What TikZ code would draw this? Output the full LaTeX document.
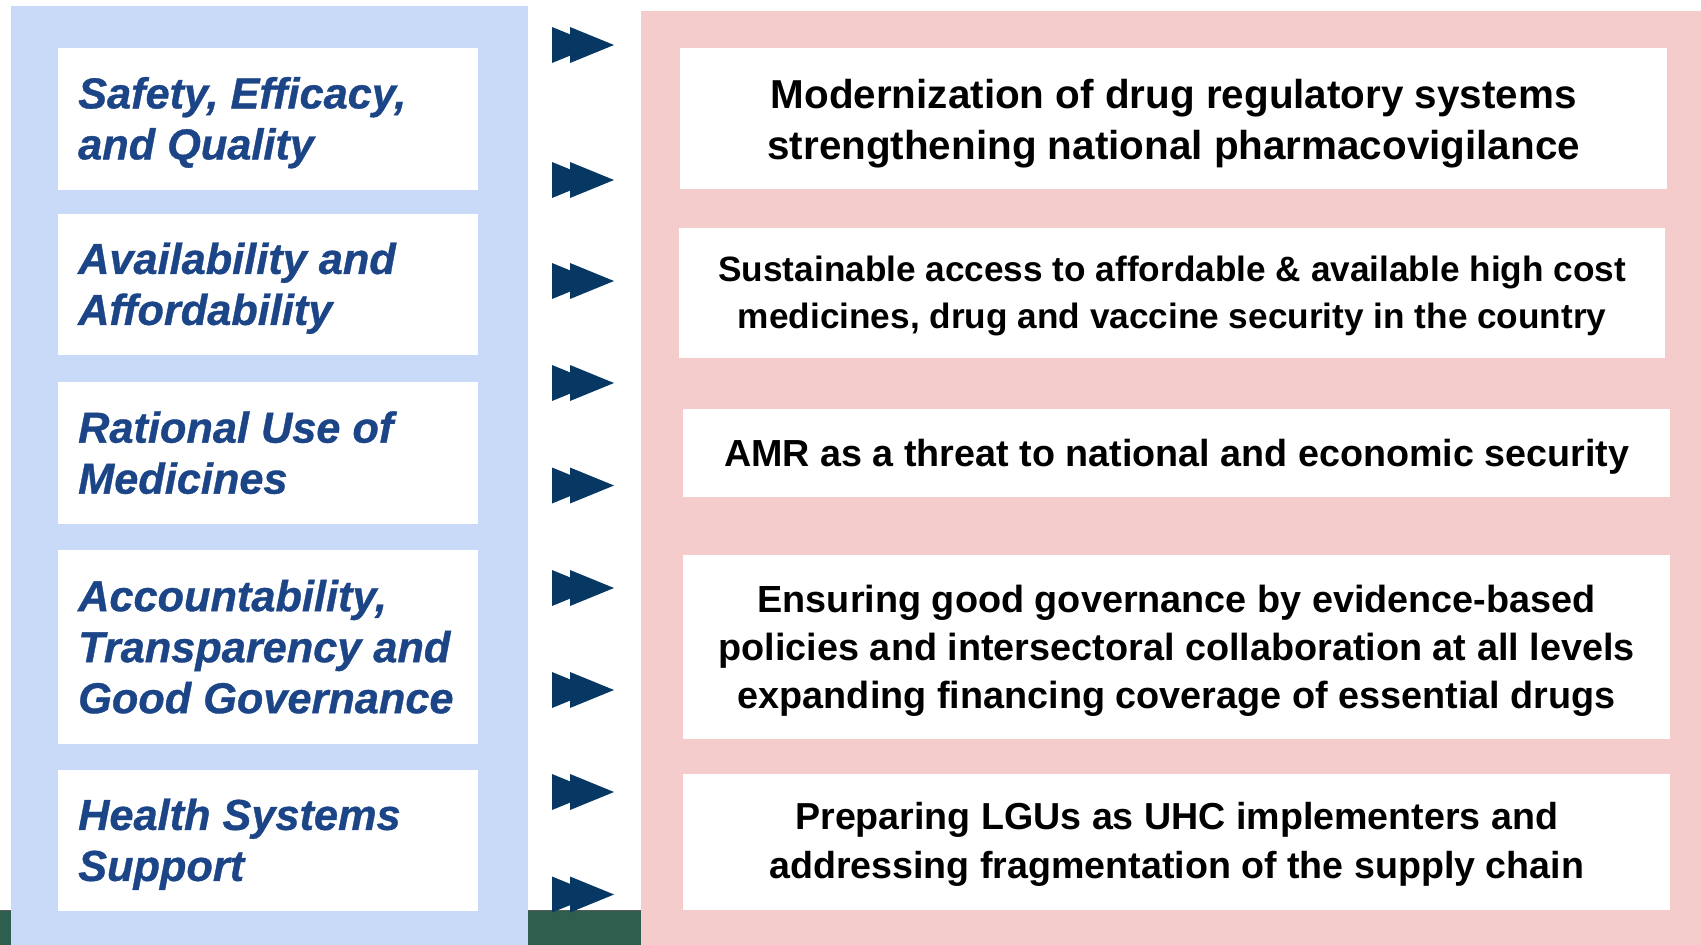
\documentclass[tikz,border=0pt]{standalone}
\usepackage{fontspec}
\setmainfont{Liberation Sans}
\newfontface\leftface{Liberation Sans Bold Italic}[FakeBold=0.8]
\definecolor{lblue}{HTML}{C9DAF8}
\definecolor{lpink}{HTML}{F4CCCC}
\definecolor{navy}{HTML}{073763}
\definecolor{ltext}{HTML}{1C4587}
\definecolor{dgreen}{HTML}{2E5E4E}
\begin{document}
\begin{tikzpicture}[x=1pt,y=-1pt,
  box/.style={fill=white, anchor=north west, inner sep=0pt, minimum width=#1},
  ltxt/.style={anchor=west, inner sep=0pt, align=left, text=ltext,
    font=\leftface\fontsize{43.3}{51}\selectfont},
  rtxt/.style={inner sep=0pt, align=center, text=black},
  arrowtri/.style={fill=navy}]
\useasboundingbox (0,0) rectangle (1701,945);
\fill[white] (0,0) rectangle (1701,945);
% bottom strip
\fill[dgreen] (0,910) rectangle (1701,945);
\draw[gray!70!black, line width=1.5pt] (0,910.5) -- (1701,910.5);
% panels
\fill[lblue] (11,6) rectangle (528,945);
\fill[lpink] (641,11) rectangle (1701,945);
% left boxes
\node[box=420pt, minimum height=142pt] (l1) at (58,48) {};
\node[box=420pt, minimum height=141pt] (l2) at (58,214) {};
\node[box=420pt, minimum height=142pt] (l3) at (58,382) {};
\node[box=420pt, minimum height=194pt] (l4) at (58,550) {};
\node[box=420pt, minimum height=141pt] (l5) at (58,770) {};
\node[ltxt] (lt1) at ([xshift=20pt,yshift=-3.5pt]l1.west) {Safety, Efficacy,\\and Quality};
\node[ltxt] (lt2) at ([xshift=20pt,yshift=-3.5pt]l2.west) {Availability and\\Affordability};
\node[ltxt] (lt3) at ([xshift=20pt,yshift=0.5pt]l3.west) {Rational Use of\\Medicines};
\node[ltxt] (lt4) at ([xshift=20pt,yshift=0.5pt]l4.west) {Accountability,\\Transparency and\\Good Governance};
\node[ltxt] (lt5) at ([xshift=20pt,yshift=-3.5pt]l5.west) {Health Systems\\Support};
% right boxes
\node[box=987pt, minimum height=141pt] (r1) at (680,48) {};
\node[box=986pt, minimum height=130pt] (r2) at (679,228) {};
\node[box=987pt, minimum height=88pt] (r3) at (683,409) {};
\node[box=987pt, minimum height=184pt] (r4) at (683,555) {};
\node[box=987pt, minimum height=136pt] (r5) at (683,774) {};
\node[rtxt, font=\bfseries\fontsize{40.4}{51}\selectfont] (rt1) at ([yshift=-4.5pt]r1.center)
  {Modernization of drug regulatory systems\\strengthening national pharmacovigilance};
\node[rtxt, font=\bfseries\fontsize{35.2}{47}\selectfont] (rt2) at ([yshift=-3pt]r2.center)
  {Sustainable access to affordable \& available high cost\\medicines, drug and vaccine security in the country};
\node[rtxt, font=\bfseries\fontsize{37.7}{47}\selectfont] (rt3) at ([yshift=-3.5pt]r3.center)
  {AMR as a threat to national and economic security};
\node[rtxt, font=\bfseries\fontsize{37.8}{48}\selectfont] (rt4) at ([yshift=-3.5pt]r4.center)
  {Ensuring good governance by evidence-based\\policies and intersectoral collaboration at all levels\\expanding financing coverage of essential drugs};
\node[rtxt, font=\bfseries\fontsize{37.6}{49}\selectfont] (rt5) at ([yshift=-2.5pt]r5.center)
  {Preparing LGUs as UHC implementers and\\addressing fragmentation of the supply chain};
% arrows
\foreach \y in {45,180,281,383,485.5,588,690,792,894.5}{
  \fill[arrowtri] (552,\y-18) -- (596,\y) -- (552,\y+18) -- cycle;
  \fill[arrowtri] (570,\y-18) -- (614,\y) -- (570,\y+18) -- cycle;
}
\end{tikzpicture}
\end{document}
